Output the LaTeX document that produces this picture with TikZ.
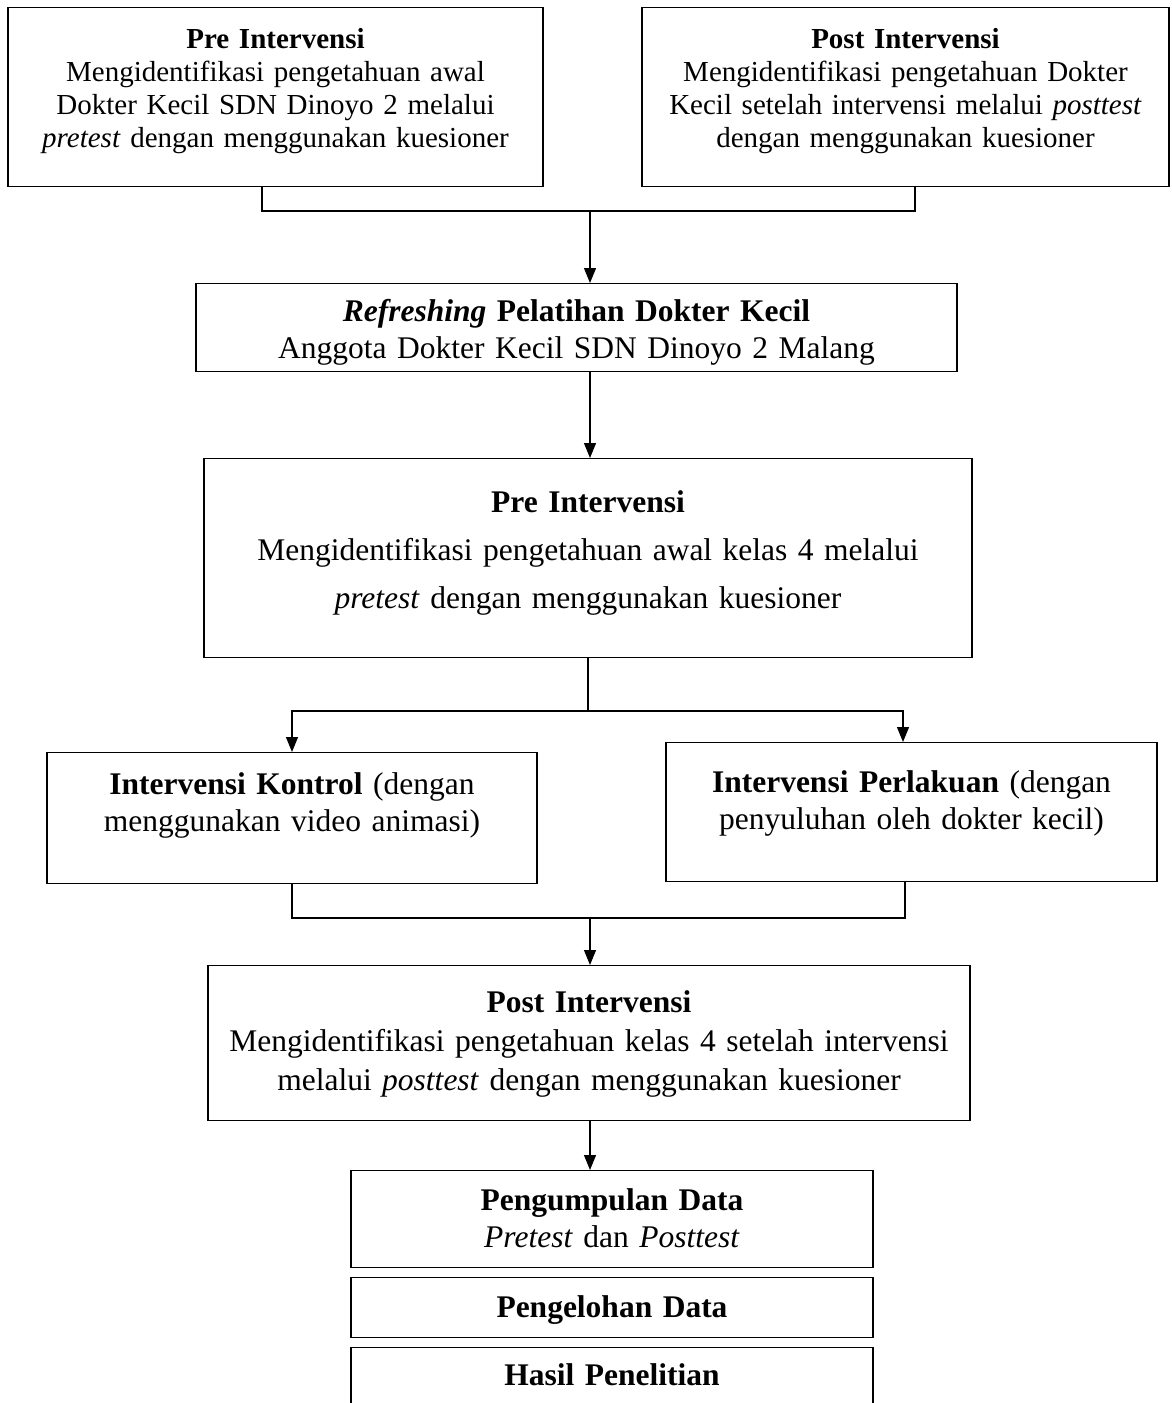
\documentclass[tikz,border=0pt]{standalone}
\usepackage{fontspec}
\setmainfont{Liberation Serif}
\usetikzlibrary{arrows.meta}

\tikzset{
  box/.style={draw, line width=1.2pt, align=center, anchor=north, inner sep=0pt,
    font=\fontsize{31.5}{37}\selectfont},
  topbox/.style={box, font=\fontsize{29}{33}\selectfont},
  line/.style={line width=1.2pt},
  arr/.style={line width=1.2pt, -{Triangle[width=12pt,length=15pt]}}
}

\begin{document}
\begin{tikzpicture}[x=1pt,y=-1pt]
\useasboundingbox (0,0) rectangle (1171,1403);
\clip (0,0) rectangle (1171,1403);

% top row
\node[topbox, text width=535pt, text height=41pt, text depth=138pt] (preDK) at (275.5,7)
  {\textbf{Pre Intervensi}\\ Mengidentifikasi pengetahuan awal\\ Dokter Kecil SDN Dinoyo 2 melalui\\ \textit{pretest} dengan menggunakan kuesioner};
\node[topbox, text width=527pt, text height=41pt, text depth=138pt] (postDK) at (905.5,7)
  {\textbf{Post Intervensi}\\ Mengidentifikasi pengetahuan Dokter\\ Kecil setelah intervensi melalui \textit{posttest}\\ dengan menggunakan kuesioner};

\node[box, text width=761pt, text height=38pt, text depth=50pt] (refresh) at (576.5,283)
  {\textbf{\textit{Refreshing} Pelatihan Dokter Kecil}\\ Anggota Dokter Kecil SDN Dinoyo 2 Malang};

\node[box, font=\fontsize{31.5}{48}\selectfont, text width=768pt, text height=54pt, text depth=145pt] (preKls) at (588,458)
  {\textbf{Pre Intervensi}\\ Mengidentifikasi pengetahuan awal kelas 4 melalui\\ \textit{pretest} dengan menggunakan kuesioner};

% two groups
\node[box, text width=490pt, text height=42pt, text depth=89pt] (kontrol) at (292,752)
  {\textbf{Intervensi Kontrol} (dengan\\ menggunakan video animasi)};
\node[box, text width=491pt, text height=50pt, text depth=89pt] (perlakuan) at (911.5,742)
  {\textbf{Intervensi Perlakuan} (dengan\\ penyuluhan oleh dokter kecil)};

\node[box, font=\fontsize{31.5}{39}\selectfont, text width=762pt, text height=47pt, text depth=108pt] (postKls) at (589,965)
  {\textbf{Post Intervensi}\\ Mengidentifikasi pengetahuan kelas 4 setelah intervensi\\ melalui \textit{posttest} dengan menggunakan kuesioner};

% data steps
\node[box, text width=522pt, text height=40pt, text depth=57pt] (kumpul) at (612,1170)
  {\textbf{Pengumpulan Data}\\ \textit{Pretest} dan \textit{Posttest}};
\node[box, text width=522pt, text height=40pt, text depth=20pt] (olah) at (612,1277)
  {\textbf{Pengelohan Data}};
\node[box, text width=522pt, text height=38pt, text depth=35pt] (hasil) at (612,1347)
  {\textbf{Hasil Penelitian}};

% connectors
\coordinate (jTop) at (590,211);
\coordinate (jMid) at (588,711);
\coordinate (jLow) at (590,918);

\draw[line] ([xshift=-13.5pt]preDK.south) |- (jTop) -| ([xshift=9.5pt]postDK.south);
\draw[arr] (jTop) -- (jTop |- refresh.north);
\draw[arr] (jTop |- refresh.south) -- (jTop |- preKls.north);

\draw[line] (preKls.south) -- (jMid);
\draw[arr] (jMid) -| (kontrol.north);
\draw[arr] (jMid) -| ([xshift=-8.5pt]perlakuan.north);

\draw[line] (kontrol.south) |- (jLow) -| ([xshift=-6.5pt]perlakuan.south);
\draw[arr] (jLow) -- (jLow |- postKls.north);
\draw[arr] (jLow |- postKls.south) -- (jLow |- kumpul.north);

\end{tikzpicture}
\end{document}
